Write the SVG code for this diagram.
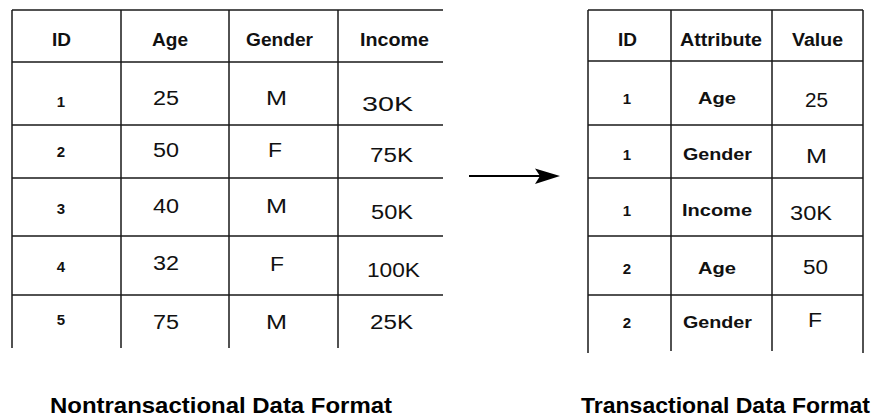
<svg xmlns="http://www.w3.org/2000/svg" width="879" height="417" viewBox="0 0 879 417">
<style>
.g{stroke:#1a1a1a;stroke-width:1.5;fill:none}
.h{font-family:"Liberation Sans",Arial,sans-serif;font-weight:bold;font-size:18px;fill:#111}
.id{font-family:"Liberation Sans",Arial,sans-serif;font-weight:bold;font-size:15px;fill:#111;text-anchor:middle}
.v{font-family:"Liberation Sans",Arial,sans-serif;font-size:20px;fill:#111}
.a{font-family:"Liberation Sans",Arial,sans-serif;font-weight:bold;font-size:16px;fill:#111}
.t{font-family:"Liberation Sans",Arial,sans-serif;font-weight:bold;font-size:22px;fill:#000}
</style>
<rect width="879" height="417" fill="#fff"/>
<g id="nontransactional-table">
<path class="g" d="M12 10H443M12 62H443M12 125H443M12 178H443M12 236H443M12 295H443M12 10V348M121 10V348M229 10V348M338 10V348"/>
<text class="h" x="52" y="46" textLength="19" lengthAdjust="spacingAndGlyphs">ID</text>
<text class="h" x="152" y="46" textLength="36" lengthAdjust="spacingAndGlyphs">Age</text>
<text class="h" x="246" y="46" textLength="67" lengthAdjust="spacingAndGlyphs">Gender</text>
<text class="h" x="360" y="46" textLength="69" lengthAdjust="spacingAndGlyphs">Income</text>
<text class="id" x="61" y="107">1</text>
<text class="v" x="153" y="105" textLength="26" lengthAdjust="spacingAndGlyphs">25</text>
<text class="v" x="266" y="105" textLength="21" lengthAdjust="spacingAndGlyphs">M</text>
<text class="v" x="362" y="111" textLength="51" lengthAdjust="spacingAndGlyphs">30K</text>
<text class="id" x="61" y="157">2</text>
<text class="v" x="153" y="157" textLength="26" lengthAdjust="spacingAndGlyphs">50</text>
<text class="v" x="268" y="157" textLength="14" lengthAdjust="spacingAndGlyphs">F</text>
<text class="v" x="370" y="162" textLength="43" lengthAdjust="spacingAndGlyphs">75K</text>
<text class="id" x="61" y="214">3</text>
<text class="v" x="153" y="213" textLength="26" lengthAdjust="spacingAndGlyphs">40</text>
<text class="v" x="266" y="213" textLength="21" lengthAdjust="spacingAndGlyphs">M</text>
<text class="v" x="371" y="219" textLength="42" lengthAdjust="spacingAndGlyphs">50K</text>
<text class="id" x="61" y="272">4</text>
<text class="v" x="153" y="270" textLength="26" lengthAdjust="spacingAndGlyphs">32</text>
<text class="v" x="270" y="271" textLength="14" lengthAdjust="spacingAndGlyphs">F</text>
<text class="v" x="367" y="277" textLength="53" lengthAdjust="spacingAndGlyphs">100K</text>
<text class="id" x="61" y="325">5</text>
<text class="v" x="153" y="329" textLength="26" lengthAdjust="spacingAndGlyphs">75</text>
<text class="v" x="266" y="329" textLength="21" lengthAdjust="spacingAndGlyphs">M</text>
<text class="v" x="370" y="329" textLength="43" lengthAdjust="spacingAndGlyphs">25K</text>
</g>
<g id="transactional-table">
<path class="g" d="M588 10H863M588 61H863M588 125H863M588 178H863M588 236H863M588 295H863M588 10V353M671 10V351M772 10V351M863 10V353"/>
<text class="h" x="618" y="46" textLength="19" lengthAdjust="spacingAndGlyphs">ID</text>
<text class="h" x="680" y="46" textLength="82" lengthAdjust="spacingAndGlyphs">Attribute</text>
<text class="h" x="792" y="46" textLength="51" lengthAdjust="spacingAndGlyphs">Value</text>
<text class="id" x="627" y="104">1</text>
<text class="a" x="698" y="104" textLength="38" lengthAdjust="spacingAndGlyphs">Age</text>
<text class="v" x="805" y="107" textLength="23" lengthAdjust="spacingAndGlyphs">25</text>
<text class="id" x="627" y="160">1</text>
<text class="a" x="683" y="160" textLength="69" lengthAdjust="spacingAndGlyphs">Gender</text>
<text class="v" x="806" y="163" textLength="21" lengthAdjust="spacingAndGlyphs">M</text>
<text class="id" x="627" y="216">1</text>
<text class="a" x="682" y="216" textLength="70" lengthAdjust="spacingAndGlyphs">Income</text>
<text class="v" x="790" y="220" textLength="42" lengthAdjust="spacingAndGlyphs">30K</text>
<text class="id" x="627" y="274">2</text>
<text class="a" x="698" y="274" textLength="38" lengthAdjust="spacingAndGlyphs">Age</text>
<text class="v" x="803" y="274" textLength="25" lengthAdjust="spacingAndGlyphs">50</text>
<text class="id" x="627" y="328">2</text>
<text class="a" x="683" y="328" textLength="69" lengthAdjust="spacingAndGlyphs">Gender</text>
<text class="v" x="808" y="327" textLength="14" lengthAdjust="spacingAndGlyphs">F</text>
</g>
<g id="connectors">
<path d="M469 176H541" stroke="#000" stroke-width="2" fill="none"/>
<path d="M560 176L535 168.5L540 176L535 184Z" fill="#000"/>
</g>
<g id="captions">
<text class="t" x="50" y="413" textLength="342" lengthAdjust="spacingAndGlyphs">Nontransactional Data Format</text>
<text class="t" x="581" y="413" textLength="289" lengthAdjust="spacingAndGlyphs">Transactional Data Format</text>
</g>
</svg>
